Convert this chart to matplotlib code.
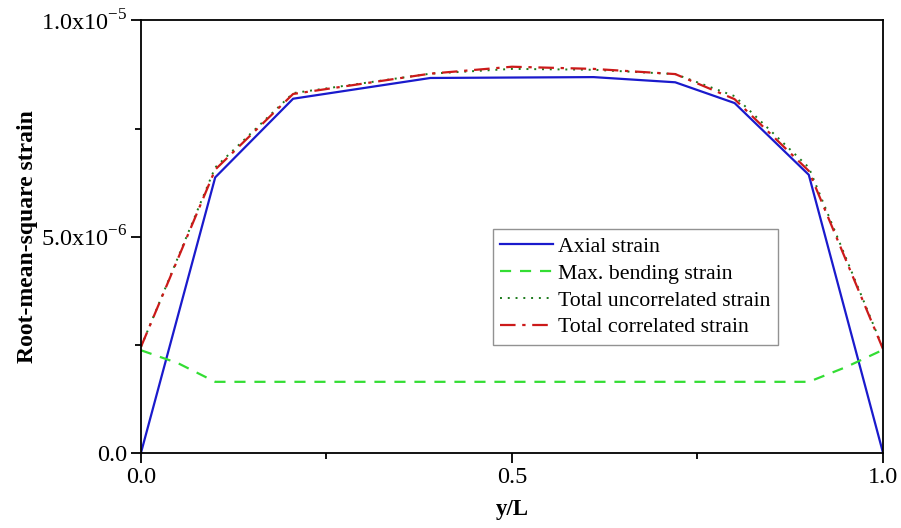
import matplotlib
matplotlib.use('Agg')
import matplotlib.pyplot as plt
from matplotlib.ticker import FixedLocator, FuncFormatter

plt.rcParams['font.family'] = ['Liberation Serif', 'DejaVu Serif']
plt.rcParams['mathtext.fontset'] = 'custom'
plt.rcParams['mathtext.rm'] = 'Liberation Serif'

# 数据
x_axial = [0.0, 0.1, 0.205, 0.39, 0.61, 0.72, 0.8, 0.9, 1.0]
axial = [0.0, 6.37e-6, 8.19e-6, 8.67e-6, 8.69e-6, 8.57e-6, 8.09e-6, 6.43e-6, 0.0]

x_bend = [0.0, 0.05, 0.1, 0.2, 0.4, 0.6, 0.8, 0.9, 0.95, 1.0]
bending = [2.37e-6, 2.07e-6, 1.64e-6, 1.64e-6, 1.64e-6, 1.64e-6, 1.64e-6, 1.64e-6, 1.98e-6, 2.38e-6]

x_total = [0.0, 0.1, 0.205, 0.39, 0.5, 0.61, 0.72, 0.8, 0.9, 1.0]
uncorr = [2.45e-6, 6.60e-6, 8.32e-6, 8.77e-6, 8.88e-6, 8.86e-6, 8.76e-6, 8.25e-6, 6.60e-6, 2.42e-6]
corr = [2.45e-6, 6.55e-6, 8.30e-6, 8.77e-6, 8.93e-6, 8.88e-6, 8.76e-6, 8.18e-6, 6.52e-6, 2.40e-6]

fig = plt.figure(figsize=(9.01, 5.28), dpi=100)
ax = fig.add_axes([0.1565, 0.1426, 0.8235, 0.8186])

ax.plot(x_axial, axial, color='#1a1acc', lw=1.6, label='Axial strain')
ax.plot(x_bend, bending, color='#33dd33', lw=1.6, ls=(0, (5, 4)), label='Max. bending strain')
ax.plot(x_total, uncorr, color='#1a7a1a', lw=1.4, ls=(0, (1, 3)), label='Total uncorrelated strain')
ax.plot(x_total, corr, color='#cc1a1a', lw=1.6, ls=(0, (7, 3, 1.5, 3)), label='Total correlated strain')

ax.set_xlim(0, 1)
ax.set_ylim(0, 1e-5)

ax.xaxis.set_major_locator(FixedLocator([0, 0.5, 1.0]))
ax.xaxis.set_minor_locator(FixedLocator([0.25, 0.75]))
ax.yaxis.set_major_locator(FixedLocator([0, 5e-6, 1e-5]))
ax.yaxis.set_minor_locator(FixedLocator([2.5e-6, 7.5e-6]))

def yfmt(v, pos):
    if v == 0:
        return '0.0'
    if abs(v - 5e-6) < 1e-12:
        return r'5.0x10$^{\mathregular{-6}}$'
    return r'1.0x10$^{\mathregular{-5}}$'

ax.xaxis.set_major_formatter(FuncFormatter(lambda v, p: '%.1f' % v))
ax.yaxis.set_major_formatter(FuncFormatter(yfmt))

ax.tick_params(which='major', direction='out', length=7, width=1.3, labelsize=17.5, pad=3)
ax.tick_params(which='minor', direction='out', length=4, width=1.3)
for s in ax.spines.values():
    s.set_linewidth(1.3)

ax.set_xlabel('y/L', fontsize=16.5, fontweight='bold', labelpad=8)
ax.set_ylabel('Root-mean-square strain', fontsize=17, fontweight='bold', labelpad=2)

leg = ax.legend(loc='lower left', bbox_to_anchor=(0.474, 0.249), fontsize=15.7,
                handlelength=2.4, handletextpad=0.25, labelspacing=0.3,
                borderpad=0.35, borderaxespad=0.0, frameon=True, fancybox=False)
leg.get_frame().set_edgecolor('#777777')
leg.get_frame().set_linewidth(1.0)

plt.savefig('out.png', dpi=100)
